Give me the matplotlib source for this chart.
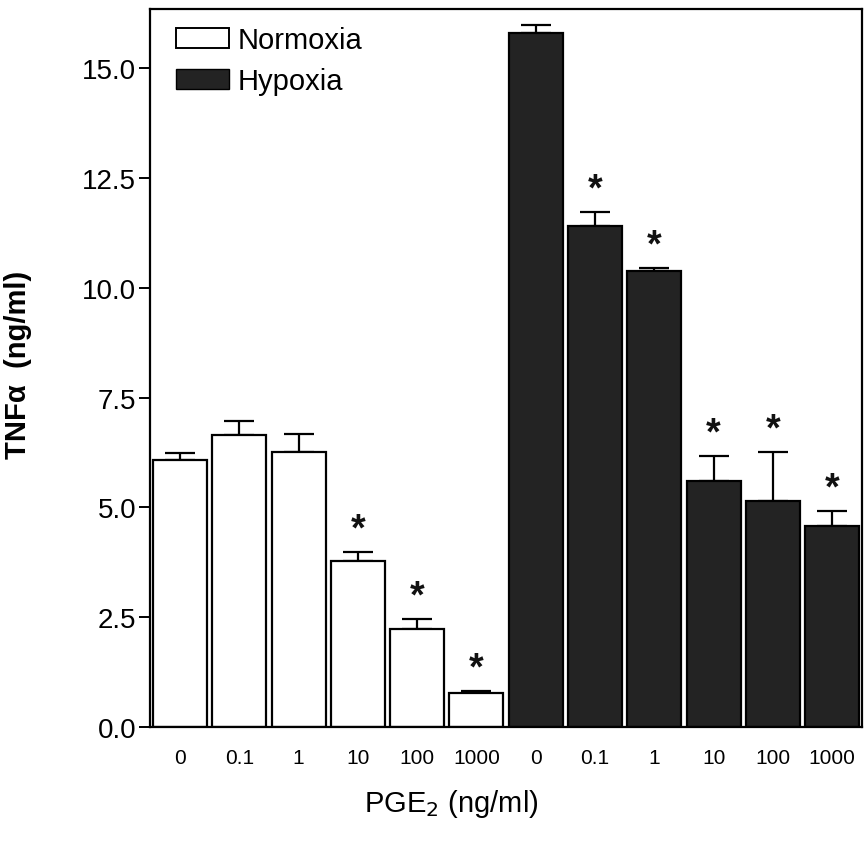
import numpy as np
import matplotlib
matplotlib.use("Agg")
import matplotlib.pyplot as plt
from matplotlib.patches import Patch

plt.rcParams['font.family'] = ['Liberation Sans', 'DejaVu Sans']

# data
doses = ['0', '0.1', '1', '10', '100', '1000']
normoxia = [6.09, 6.66, 6.26, 3.78, 2.24, 0.77]
normoxia_err = [0.15, 0.32, 0.42, 0.21, 0.23, 0.05]
hypoxia = [15.80, 11.42, 10.39, 5.60, 5.14, 4.57]
hypoxia_err = [0.18, 0.32, 0.06, 0.57, 1.12, 0.35]
norm_sig = [False, False, False, True, True, True]
hyp_sig = [False, True, True, True, True, True]

vals = normoxia + hypoxia
errs = normoxia_err + hypoxia_err
sig = norm_sig + hyp_sig
labels = doses + doses
colors = ['white'] * len(normoxia) + ['#232323'] * len(hypoxia)
x = np.arange(len(vals))

fig = plt.figure(figsize=(8.67, 8.45), dpi=100)
ax = fig.add_axes([0.173, 0.1385, 0.821, 0.85])

ax.bar(x, vals, width=0.91, color=colors, edgecolor='black', linewidth=1.6, zorder=2)
ax.errorbar(x, vals, yerr=[np.zeros(len(errs)), errs], fmt='none', ecolor='black',
            elinewidth=1.6, capsize=11, capthick=1.6, zorder=1)

# significance stars
for xi, v, e, s in zip(x, vals, errs, sig):
    if s:
        ax.text(xi, v + e + 0.1, '*', ha='center', va='bottom', fontsize=27,
                fontweight='bold', color='#111111')

ax.set_xlim(-0.506, 11.5)
ax.set_ylim(0, 16.36)
yt = np.arange(0, 15.1, 2.5)
ax.set_yticks(yt)
ax.set_yticklabels([f'{t:.1f}' for t in yt], fontsize=20)
ax.set_xticks(x)
ax.set_xticklabels(labels, fontsize=15)
ax.tick_params(axis='x', length=0, pad=15)
ax.tick_params(axis='y', length=8, width=1.4, direction='out', pad=2)
for sp in ax.spines.values():
    sp.set_linewidth(1.6)

ax.set_ylabel('TNFα  (ng/ml)', fontsize=21, fontweight='bold')
ax.yaxis.set_label_coords(-0.166, 0.505)
ax.set_xlabel(r'PGE$_2$ (ng/ml)', fontsize=21)
ax.xaxis.set_label_coords(0.423, -0.083)

handles = [Patch(facecolor='white', edgecolor='black', linewidth=1.4, label='Normoxia'),
           Patch(facecolor='#232323', edgecolor='black', label='Hypoxia')]
ax.legend(handles=handles, loc='upper left', frameon=False, fontsize=21,
          handlelength=1.83, handleheight=0.69, handletextpad=0.28, labelspacing=0.45,
          borderpad=0, borderaxespad=0, bbox_to_anchor=(0.0365, 0.976))

fig.savefig('out.png', dpi=100)
